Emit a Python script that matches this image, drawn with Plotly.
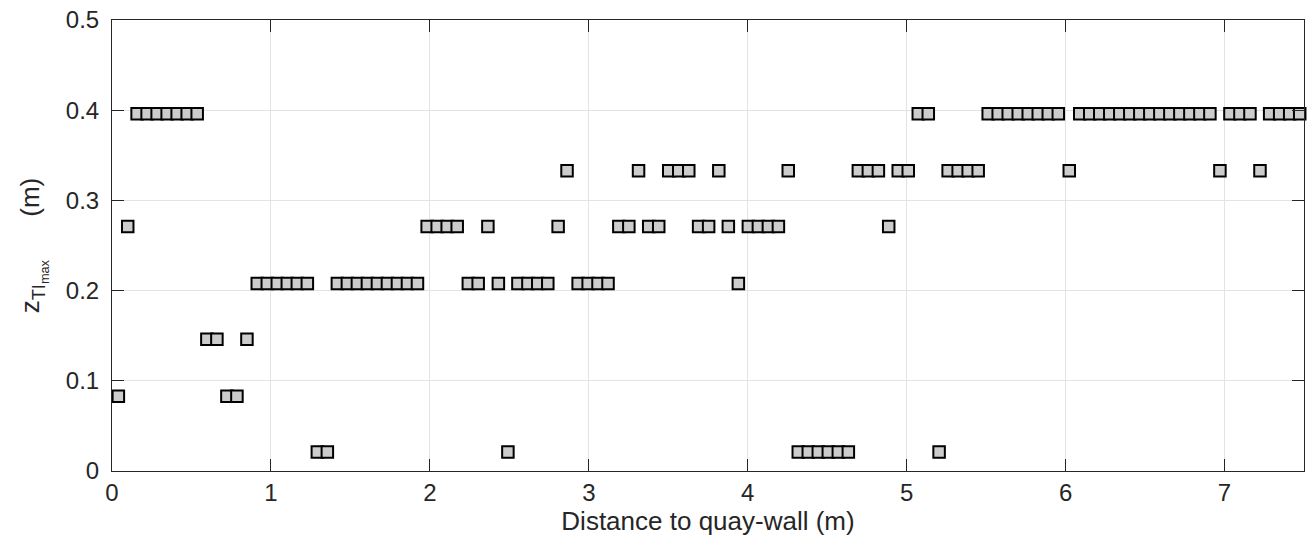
import plotly.graph_objects as go

# distance to the quay-wall (m) of each measurement point
distance = [
    0.040, 0.099,
    0.158, 0.221, 0.284, 0.347, 0.410, 0.473, 0.536,
    0.597, 0.660, 0.723, 0.786, 0.849,
    0.914, 0.977, 1.040, 1.103, 1.166, 1.229,
    1.292, 1.355,
    1.418, 1.481, 1.544, 1.607, 1.670, 1.733, 1.796, 1.859, 1.922,
    1.983, 2.046, 2.109, 2.172,
    2.242, 2.304, 2.365, 2.431, 2.491,
    2.554, 2.617, 2.679, 2.742,
    2.807, 2.863,
    2.933, 2.996, 3.058, 3.121,
    3.189, 3.252, 3.313, 3.377, 3.440, 3.503, 3.566, 3.629, 3.691, 3.754, 3.818, 3.878, 3.941,
    4.004, 4.067, 4.130, 4.193,
    4.255,
    4.318, 4.381, 4.444, 4.507, 4.570, 4.633,
    4.696, 4.759, 4.822, 4.887, 4.947, 5.010, 5.073, 5.136, 5.204,
    5.261, 5.324, 5.387, 5.450,
    5.513, 5.576, 5.639, 5.702, 5.765, 5.828, 5.891, 5.954,
    6.023,
    6.089, 6.152, 6.215, 6.278, 6.341, 6.404, 6.467, 6.530, 6.593, 6.656, 6.719, 6.782, 6.845, 6.908,
    6.971, 7.034, 7.097, 7.160, 7.223,
    7.284, 7.347, 7.410, 7.473,
]

# maximum z_TI (m) at each point
z_ti_max = [
    0.083, 0.271,
    0.396, 0.396, 0.396, 0.396, 0.396, 0.396, 0.396,
    0.146, 0.146, 0.083, 0.083, 0.146,
    0.208, 0.208, 0.208, 0.208, 0.208, 0.208,
    0.021, 0.021,
    0.208, 0.208, 0.208, 0.208, 0.208, 0.208, 0.208, 0.208, 0.208,
    0.271, 0.271, 0.271, 0.271,
    0.208, 0.208, 0.271, 0.208, 0.021,
    0.208, 0.208, 0.208, 0.208,
    0.271, 0.333,
    0.208, 0.208, 0.208, 0.208,
    0.271, 0.271, 0.333, 0.271, 0.271, 0.333, 0.333, 0.333, 0.271, 0.271, 0.333, 0.271, 0.208,
    0.271, 0.271, 0.271, 0.271,
    0.333,
    0.021, 0.021, 0.021, 0.021, 0.021, 0.021,
    0.333, 0.333, 0.333, 0.271, 0.333, 0.333, 0.396, 0.396, 0.021,
    0.333, 0.333, 0.333, 0.333,
    0.396, 0.396, 0.396, 0.396, 0.396, 0.396, 0.396, 0.396,
    0.333,
    0.396, 0.396, 0.396, 0.396, 0.396, 0.396, 0.396, 0.396, 0.396, 0.396, 0.396, 0.396, 0.396, 0.396,
    0.333, 0.396, 0.396, 0.396, 0.333,
    0.396, 0.396, 0.396, 0.396,
]

x_ticks = [0, 1, 2, 3, 4, 5, 6, 7]
y_ticks = [0, 0.1, 0.2, 0.3, 0.4, 0.5]
y_tick_labels = ["0", "0.1", "0.2", "0.3", "0.4", "0.5"]

assert len(distance) == len(z_ti_max)

FONT = "Liberation Sans, Arial, sans-serif"
AXIS_COLOR = "#262626"
GRID_COLOR = "#e3e3e3"

fig = go.Figure()
fig.add_trace(go.Scatter(
    x=distance,
    y=z_ti_max,
    mode="markers",
    marker=dict(symbol="square", size=11.5, color="#cccccc",
                line=dict(color="#000000", width=2)),
    showlegend=False,
    cliponaxis=False,
))

axis_common = dict(
    showline=True, linecolor=AXIS_COLOR, linewidth=1, mirror="ticks",
    ticks="inside", ticklen=12, tickwidth=1, tickcolor=AXIS_COLOR,
    showgrid=True, gridcolor=GRID_COLOR, gridwidth=1,
    zeroline=False, automargin=False, ticklabeloverflow="allow",
    tickfont=dict(family=FONT, size=24, color=AXIS_COLOR),
)

fig.update_layout(
    width=1307, height=552,
    margin=dict(l=112, r=3, t=20, b=81),
    paper_bgcolor="white", plot_bgcolor="white",
    xaxis=dict(
        range=[0, 7.5], tickvals=x_ticks,
        title=dict(text="Distance to quay-wall (m)",
                   font=dict(family=FONT, size=26, color=AXIS_COLOR), standoff=0),
        **axis_common,
    ),
    yaxis=dict(
        range=[0, 0.5], tickvals=y_ticks, ticktext=y_tick_labels,
        ticklabelstandoff=7,
        title=dict(text="z<sub>TI<sub>max</sub></sub>      (m)",
                   font=dict(family=FONT, size=26, color=AXIS_COLOR), standoff=18),
        **axis_common,
    ),
)

# drop the default page margin so the figure sits at the window's corner
fig.write_html("out.html", config={"displayModeBar": False},
               post_script="document.body.style.margin = '0';")
